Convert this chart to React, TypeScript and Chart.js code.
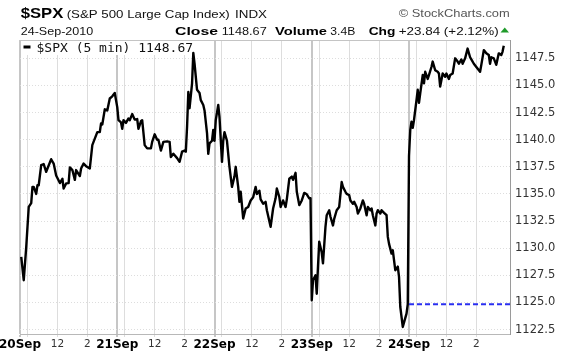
import React, { useEffect, useRef } from 'react';
import { Chart, registerables } from 'chart.js';

Chart.register(...registerables);

// ---------- data ----------
const dayLabels = ['20Sep', '21Sep', '22Sep', '23Sep', '24Sep'];
const barsPerDay = 78; // 5-minute bars per session
const hourOffsets = [6, 30, 54]; // 10:00, 12:00, 14:00 (bars after open)
const hourLabels = ['', '12', '2'];

const barIndex = [
  1, 3, 5, 7, 9, 10, 11, 13, 14, 15, 17, 19, 21, 25, 27, 29, 32, 34, 35, 37, 39, 40, 42, 44, 45, 48, 49, 51, 53, 56,
  58, 62, 64, 65, 66, 68, 70, 72, 74, 76, 78, 79, 81, 82, 83, 85, 87, 88, 90, 92, 94, 95, 97, 98, 100, 102, 105, 106, 108, 110,
  111, 113, 115, 118, 120, 121, 123, 126, 128, 130, 132, 133, 134, 135, 136, 138, 139, 140, 142, 144, 145, 147, 148, 150, 151, 152, 154, 155, 156, 157,
  159, 160, 162, 163, 164, 166, 168, 170, 172, 173, 175, 176, 177, 179, 181, 183, 185, 187, 189, 190, 192, 193, 195, 197, 198, 201, 203, 205, 206, 208,
  209, 211, 213, 214, 216, 218, 219, 221, 222, 224, 226, 228, 230, 232, 233, 234, 235, 237, 238, 239, 240, 242, 243, 245, 246, 248, 249, 251, 252, 254,
  256, 258, 259, 261, 262, 264, 265, 267, 268, 270, 271, 273, 275, 276, 278, 279, 281, 282, 283, 285, 286, 287, 289, 290, 292, 294, 295, 296, 298, 299,
  301, 303, 304, 305, 307, 310, 311, 312, 313, 314, 315, 316, 318, 319, 320, 321, 323, 324, 325, 327, 328, 330, 331, 333, 335, 336, 337, 339, 341, 342,
  344, 345, 347, 349, 351, 352, 354, 355, 357, 359, 361, 362, 364, 366, 369, 370, 372, 374, 376, 377, 378, 380, 381, 382, 384, 386, 387, 388,
];

const spxClose = [
  1129.2, 1127.05, 1130.1, 1133.8, 1134.15, 1135.65, 1135.65, 1135.0, 1135.8, 1135.8, 1137.66, 1137.75, 1137.04, 1138.2, 1137.8, 1136.7, 1136.0, 1136.4, 1135.5, 1135.97, 1136.0, 1137.45, 1137.2, 1136.3, 1137.2, 1136.65, 1137.35, 1137.8, 1137.56, 1137.35,
  1139.5, 1140.7, 1140.7, 1141.5, 1141.4, 1142.8, 1142.7, 1143.8, 1144.0, 1144.3, 1143.0, 1141.8, 1141.6, 1141.0, 1141.8, 1141.55, 1141.96, 1141.8, 1142.36, 1141.85, 1141.9, 1141.0, 1141.7, 1141.8, 1139.5, 1139.2, 1139.2, 1139.8, 1140.5, 1140.0,
  1140.0, 1139.0, 1139.8, 1139.85, 1139.8, 1138.4, 1138.7, 1138.3, 1137.96, 1138.9, 1139.0, 1138.9, 1141.2, 1144.4, 1142.9, 1145.2, 1148.0, 1147.0, 1144.6, 1144.3, 1143.65, 1143.2, 1142.7, 1140.6, 1138.7, 1139.66, 1139.9, 1140.9, 1139.9, 1141.8,
  1143.2, 1142.1, 1137.96, 1139.9, 1140.7, 1139.9, 1137.5, 1135.65, 1136.6, 1137.5, 1135.65, 1134.27, 1135.2, 1132.74, 1133.66, 1133.8, 1134.4, 1134.7, 1135.65, 1135.0, 1135.3, 1134.5, 1134.1, 1134.27, 1133.5, 1131.97, 1133.66, 1134.6, 1135.5, 1134.7,
  1133.8, 1134.4, 1133.8, 1134.5, 1136.4, 1136.6, 1136.3, 1136.95, 1135.2, 1133.97, 1134.4, 1135.1, 1134.97, 1134.6, 1134.6, 1125.2, 1127.05, 1127.5, 1125.8, 1128.3, 1130.6, 1129.6, 1128.6, 1131.97, 1133.04, 1133.5, 1132.9, 1132.1, 1132.7, 1133.5,
  1133.8, 1136.1, 1135.65, 1135.2, 1135.0, 1134.9, 1134.4, 1134.1, 1134.27, 1133.8, 1133.2, 1133.66, 1134.4, 1134.1, 1133.04, 1133.8, 1133.5, 1133.66, 1133.04, 1132.1, 1133.2, 1133.5, 1133.2, 1133.5, 1133.26, 1133.04, 1131.04, 1130.4, 1129.5, 1129.8,
  1127.97, 1128.3, 1127.35, 1124.6, 1122.74, 1123.97, 1124.83, 1138.5, 1140.9, 1141.65, 1141.1, 1141.8, 1143.65, 1144.6, 1143.4, 1144.27, 1145.96, 1145.2, 1146.26, 1145.6, 1145.96, 1146.7, 1147.2, 1146.4, 1146.26, 1146.1, 1144.9, 1146.1, 1145.8, 1146.1,
  1145.6, 1145.96, 1146.1, 1147.5, 1147.2, 1147.0, 1147.4, 1147.0, 1147.5, 1148.4, 1147.6, 1147.4, 1147.0, 1146.7, 1146.26, 1146.9, 1148.26, 1147.96, 1147.8, 1147.0, 1147.6, 1147.5, 1147.2, 1146.9, 1147.96, 1147.8, 1148.1, 1148.67,
];

const yTickValues = [1122.5, 1125.0, 1127.5, 1130.0, 1132.5, 1135.0, 1137.5, 1140.0, 1142.5, 1145.0, 1147.5];
const prevClose = 1124.83;
const lastClose = 1148.67;
const xMax = 393;
const yMin = 1122.09;
const yMax = 1149.19;

const symbol = '$SPX';
const indexName = '(S&P 500 Large Cap Index)';
const exchange = 'INDX';
const brand = '\u00A9 StockCharts.com';
const dateText = '24-Sep-2010';
const closeText = '1148.67';
const volumeText = '3.4B';
const chgText = '+23.84 (+2.12%)';
const legendText = `$SPX (5 min) ${lastClose.toFixed(2)}`;

// ---------- derived ticks ----------
const xTicks: { value: number; label: string; day: boolean }[] = [];
dayLabels.forEach((d, i) => {
  xTicks.push({ value: i * barsPerDay, label: d, day: true });
  hourOffsets.forEach((o, j) => xTicks.push({ value: i * barsPerDay + o, label: hourLabels[j], day: false }));
});
const xTickMap = new Map(xTicks.map((t) => [t.value, t]));

function drawFit(ctx: CanvasRenderingContext2D, text: string, x: number, y: number, font: string, width: number, color: string) {
  ctx.save();
  ctx.font = font;
  ctx.fillStyle = color;
  ctx.textAlign = 'left';
  ctx.textBaseline = 'alphabetic';
  const w = ctx.measureText(text).width;
  ctx.translate(x, y);
  ctx.scale(width / w, 1);
  ctx.fillText(text, 0, 0);
  ctx.restore();
}

const decorPlugin = {
  id: 'decor',
  beforeDraw(chart: any) {
    const ctx = chart.ctx as CanvasRenderingContext2D;
    ctx.save();
    ctx.fillStyle = '#ffffff';
    ctx.fillRect(0, 0, chart.width, chart.height);
    ctx.restore();
  },
  beforeDatasetsDraw(chart: any) {
    const ctx = chart.ctx as CanvasRenderingContext2D;
    const a = chart.chartArea;
    // top border
    ctx.save();
    ctx.strokeStyle = '#c4c4c4';
    ctx.lineWidth = 1;
    ctx.beginPath();
    ctx.moveTo(a.left, a.top + 0.5);
    ctx.lineTo(a.right, a.top + 0.5);
    ctx.stroke();
    // legend box
    ctx.fillStyle = '#ffffff';
    ctx.fillRect(a.left + 1, a.top + 1, 175, 14);
    ctx.strokeStyle = '#000000';
    ctx.lineWidth = 3;
    ctx.beginPath();
    ctx.moveTo(a.left + 3.5, a.top + 7);
    ctx.lineTo(a.left + 10.5, a.top + 7);
    ctx.stroke();
    ctx.fillStyle = '#111111';
    ctx.font = '13px "DejaVu Sans Mono"';
    ctx.textBaseline = 'alphabetic';
    ctx.fillText(legendText, a.left + 16.5, a.top + 11.8);
    ctx.restore();
  },
  afterDraw(chart: any) {
    const ctx = chart.ctx as CanvasRenderingContext2D;
    const f = '"Liberation Sans", Arial, sans-serif';
    drawFit(ctx, symbol, 20.7, 18.3, `bold 14px ${f}`, 42.6, '#000');
    drawFit(ctx, indexName, 66.7, 18.3, `11px ${f}`, 163, '#111');
    drawFit(ctx, exchange, 235, 18.3, `10.5px ${f}`, 32, '#111');
    drawFit(ctx, brand, 398.7, 17.3, `11px ${f}`, 111, '#555');
    drawFit(ctx, dateText, 20.7, 34.5, `10.5px ${f}`, 72.6, '#111');
    drawFit(ctx, 'Close', 175, 34.5, `bold 11px ${f}`, 43, '#000');
    drawFit(ctx, closeText, 221.7, 34.5, `10.5px ${f}`, 45, '#111');
    drawFit(ctx, 'Volume', 275, 34.5, `bold 11px ${f}`, 52, '#000');
    drawFit(ctx, volumeText, 330.3, 34.5, `10.5px ${f}`, 25, '#111');
    drawFit(ctx, 'Chg', 368.7, 34.5, `bold 11px ${f}`, 26.7, '#000');
    drawFit(ctx, chgText, 398.7, 34.5, `10.5px ${f}`, 100, '#111');
    // up arrow
    ctx.save();
    ctx.fillStyle = '#1f9a2a';
    ctx.beginPath();
    ctx.moveTo(500.5, 32.5);
    ctx.lineTo(509, 32.5);
    ctx.lineTo(504.75, 27.5);
    ctx.closePath();
    ctx.fill();
    ctx.restore();
  },
};

export default function App() {
  const ref = useRef<HTMLCanvasElement | null>(null);

  useEffect(() => {
    if (!ref.current) return;
    const chart = new Chart(ref.current, {
      type: 'line',
      data: {
        datasets: [
          {
            data: barIndex.map((x, i) => ({ x, y: spxClose[i] })),
            borderColor: '#000000',
            borderWidth: 2.4,
            pointRadius: 0,
            tension: 0,
            borderJoinStyle: 'round',
            fill: false,
          },
          {
            data: [
              { x: (dayLabels.length - 1) * barsPerDay, y: prevClose },
              { x: xMax, y: prevClose },
            ],
            borderColor: '#2a2ff0',
            borderWidth: 2,
            borderDash: [5, 3],
            pointRadius: 0,
            fill: false,
          },
        ],
      },
      options: {
        responsive: false,
        animation: false,
        devicePixelRatio: 1,
        layout: { padding: { left: 20, top: 40, right: 0, bottom: 0 } },
        plugins: { legend: { display: false }, tooltip: { enabled: false } },
        scales: {
          x: {
            type: 'linear',
            position: 'bottom',
            min: 0,
            max: xMax,
            afterBuildTicks: (scale: any) => {
              scale.ticks = xTicks.map((t) => ({ value: t.value }));
            },
            afterFit: (scale: any) => {
              scale.height = 23;
              scale.paddingLeft = 0;
              scale.paddingRight = 0;
            },
            grid: {
              drawTicks: true,
              tickLength: 3,
              color: (c: any) => (c.tick && xTickMap.get(c.tick.value)?.day ? '#c6c6c6' : '#dddddd'),
              lineWidth: (c: any) => (c.tick && xTickMap.get(c.tick.value)?.day ? 2 : 1),
            },
            border: { display: true, color: '#b8b8b8', width: 1 },
            ticks: {
              autoSkip: false,
              maxRotation: 0,
              minRotation: 0,
              padding: 1,
              callback: (v: any) => xTickMap.get(v)?.label ?? '',
              font: (c: any) =>
                c.tick && xTickMap.get(c.tick.value)?.day
                  ? { family: 'DejaVu Sans', size: 12, weight: 'bold' }
                  : { family: 'DejaVu Sans', size: 10.5, weight: 'normal' },
              color: (c: any) => (c.tick && xTickMap.get(c.tick.value)?.day ? '#000000' : '#333333'),
            },
          },
          y: {
            type: 'linear',
            position: 'right',
            min: yMin,
            max: yMax,
            afterBuildTicks: (scale: any) => {
              scale.ticks = yTickValues.map((v) => ({ value: v }));
            },
            afterFit: (scale: any) => {
              scale.width = 67;
              scale.paddingTop = 0;
              scale.paddingBottom = 0;
            },
            grid: { drawTicks: false, color: '#dddddd', lineWidth: 1 },
            border: { display: true, color: '#9a9a9a', dash: [1, 2] },
            ticks: {
              padding: 5,
              font: { family: 'DejaVu Sans', size: 11.5 },
              color: '#333333',
              callback: (v: any) => Number(v).toFixed(1),
            },
          },
        },
      },
      plugins: [decorPlugin],
    } as any);
    return () => chart.destroy();
  }, []);

  return (
    <div style={{ position: 'absolute', left: 0, top: 0, width: 577, height: 357, background: '#fff' }}>
      <canvas ref={ref} width={577} height={357} style={{ display: 'block', width: 577, height: 357 }} />
    </div>
  );
}
